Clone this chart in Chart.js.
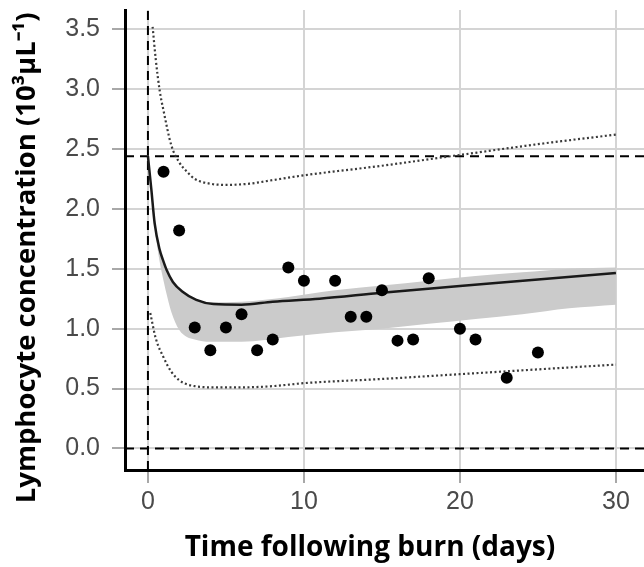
<!DOCTYPE html>
<html>
<head>
<meta charset="utf-8">
<script src="https://cdn.jsdelivr.net/npm/chart.js@4/dist/chart.umd.min.js"></script>
<style>
  html, body { margin: 0; padding: 0; background: #ffffff; }
  #c { display: block; }
</style>
</head>
<body>
<canvas id="c" width="644" height="567"></canvas>
<script>
// Observed data points (days after burn, lymphocytes 10^3/µL)
const days  = [1, 2, 3, 4, 5, 6, 7, 8, 9, 10, 12, 13, 14, 15, 16, 17, 18, 20, 21, 23, 25];
const lymph = [2.31, 1.82, 1.01, 0.82, 1.01, 1.12, 0.82, 0.91, 1.51, 1.40, 1.40, 1.10, 1.10, 1.32, 0.90, 0.91, 1.42, 1.00, 0.91, 0.59, 0.80];

// Fitted curve
const fitX = [0, 0.22, 0.43, 0.75, 1.0, 1.2, 1.6, 2.2, 3.1, 4.2, 6, 8, 11, 15, 20, 25, 30];
const fitY = [2.44, 2.16, 1.88, 1.66, 1.56, 1.49, 1.39, 1.31, 1.24, 1.205, 1.20, 1.225, 1.25, 1.30, 1.355, 1.41, 1.465];

// Confidence band
const bandX     = [0, 0.25, 0.5, 0.75, 1, 1.25, 1.5, 2, 2.5, 3, 4, 6, 9, 12, 15, 18, 21, 24, 27, 30];
const bandUpper = [2.44, 2.14, 1.86, 1.67, 1.57, 1.49, 1.42, 1.33, 1.28, 1.25, 1.22, 1.225, 1.265, 1.32, 1.36, 1.40, 1.44, 1.47, 1.50, 1.51];
const bandLower = [2.44, 2.08, 1.78, 1.56, 1.40, 1.26, 1.14, 0.99, 0.93, 0.91, 0.89, 0.89, 0.93, 0.97, 1.00, 1.04, 1.08, 1.12, 1.17, 1.20];

// Prediction interval (dotted)
const piUpX    = [0.3, 0.5, 0.75, 1, 1.5, 2, 2.5, 3, 4, 5, 6.5, 8, 10, 15, 20, 25, 30];
const piUpper  = [3.52, 3.25, 2.99, 2.82, 2.53, 2.39, 2.31, 2.25, 2.21, 2.20, 2.21, 2.24, 2.28, 2.36, 2.45, 2.54, 2.62];
const piLowX   = [0.15, 0.5, 1, 1.5, 2, 2.5, 3, 4, 6, 8, 10, 15, 20, 25, 30];
const piLower  = [1.13, 0.92, 0.76, 0.64, 0.57, 0.535, 0.52, 0.51, 0.51, 0.52, 0.545, 0.58, 0.62, 0.66, 0.70];

// Reference lines
const refH = [0, 2.44];
const refV = [0];

// Axis ticks
const xTicks = [0, 10, 20, 30];
const yTicks = [0, 0.5, 1.0, 1.5, 2.0, 2.5, 3.0, 3.5];

const X_MIN = -1.47, X_MAX = 31.8, Y_MIN = -0.18, Y_MAX = 3.66;

const zip = (xs, ys) => xs.map((x, i) => ({ x: x, y: ys[i] }));

const datasets = [];
datasets.push({
  label: 'observed', type: 'scatter', data: zip(days, lymph),
  pointRadius: 6, pointBackgroundColor: '#000', pointBorderWidth: 0, showLine: false
});
datasets.push({
  label: 'fit', data: zip(fitX, fitY), borderColor: '#1a1a1a', borderWidth: 2.5,
  pointRadius: 0, cubicInterpolationMode: 'monotone', fill: false
});
datasets.push({
  label: 'pi upper', data: zip(piUpX, piUpper), borderColor: '#3a3a3a', borderWidth: 2.2,
  borderDash: [2, 2.5], pointRadius: 0, cubicInterpolationMode: 'monotone', fill: false
});
datasets.push({
  label: 'pi lower', data: zip(piLowX, piLower), borderColor: '#3a3a3a', borderWidth: 2.2,
  borderDash: [2, 2.5], pointRadius: 0, cubicInterpolationMode: 'monotone', fill: false
});
refH.forEach(v => datasets.push({
  label: 'ref h ' + v, data: [{ x: X_MIN, y: v }, { x: X_MAX, y: v }], borderColor: '#000',
  borderWidth: 2, borderDash: [9, 6], pointRadius: 0, fill: false
}));
refV.forEach(v => datasets.push({
  label: 'ref v ' + v, data: [{ x: v, y: Y_MIN }, { x: v, y: Y_MAX }], borderColor: '#000',
  borderWidth: 2, borderDash: [9, 6], pointRadius: 0, fill: false
}));
datasets.push({
  label: 'band upper', data: zip(bandX, bandUpper), borderWidth: 0, borderColor: 'rgba(0,0,0,0)',
  pointRadius: 0, cubicInterpolationMode: 'monotone', fill: '+1', backgroundColor: '#cbcbcb'
});
datasets.push({
  label: 'band lower', data: zip(bandX, bandLower), borderWidth: 0, borderColor: 'rgba(0,0,0,0)',
  pointRadius: 0, cubicInterpolationMode: 'monotone', fill: false
});

const bgPlugin = {
  id: 'bg',
  beforeDraw(chart) {
    const ctx = chart.ctx;
    ctx.save(); ctx.fillStyle = '#fff'; ctx.fillRect(0, 0, chart.width, chart.height); ctx.restore();
  }
};

new Chart(document.getElementById('c'), {
  type: 'line',
  data: { datasets: datasets },
  plugins: [bgPlugin],
  options: {
    responsive: false,
    animation: false,
    events: [],
    layout: { autoPadding: false, padding: { top: 10, right: 0, bottom: 0, left: 0 } },
    plugins: { legend: { display: false }, tooltip: { enabled: false } },
    scales: {
      x: {
        type: 'linear', min: X_MIN, max: X_MAX,
        afterFit(s) { s.height = 97; s.paddingLeft = 0; s.paddingRight = 0; },
        afterBuildTicks(s) { s.ticks = xTicks.map(v => ({ value: v })); },
        ticks: { includeBounds: false, color: '#4a4a4a', padding: 4,
                 font: { family: 'Liberation Sans', size: 25 }, maxRotation: 0 },
        grid: { color: '#d4d4d4', lineWidth: 2, tickLength: 13, tickColor: '#a8a8a8', tickWidth: 2 },
        border: { color: '#000', width: 3 },
        title: { display: true, text: 'Time following burn (days)    ', color: '#000',
                 font: { family: 'Open Sans', size: 28, weight: 'bold' }, padding: { top: 0, bottom: 2 } }
      },
      y: {
        type: 'linear', min: Y_MIN, max: Y_MAX,
        afterFit(s) { s.width = 125; s.paddingTop = 0; s.paddingBottom = 0; },
        afterBuildTicks(s) { s.ticks = yTicks.map(v => ({ value: v })); },
        ticks: { includeBounds: false, color: '#4a4a4a', padding: 12,
                 font: { family: 'Liberation Sans', size: 25 },
                 callback: v => Number(v).toFixed(1) },
        grid: { color: '#d4d4d4', lineWidth: 2, tickLength: 13, tickColor: '#a8a8a8', tickWidth: 2 },
        border: { color: '#000', width: 3 },
        title: { display: true, text: 'Lymphocyte concentration (10³µL⁻¹)     ', color: '#000',
                 font: { family: 'Open Sans', size: 27.5, weight: 'bold' }, padding: { top: 11, bottom: 0 } }
      }
    }
  }
});
</script>
</body>
</html>
